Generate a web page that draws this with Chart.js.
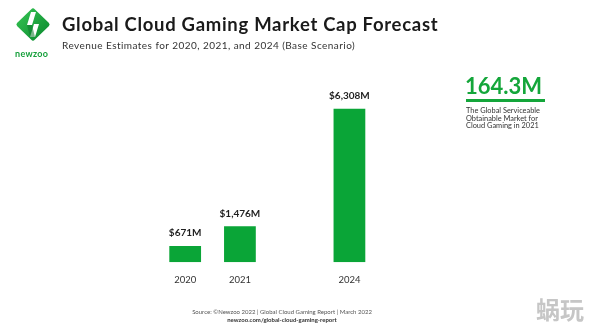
<!DOCTYPE html>
<html>
<head>
<meta charset="utf-8">
<script src="https://cdn.jsdelivr.net/npm/chart.js@4.4.1/dist/chart.umd.min.js"></script>
<style>
  html, body { margin: 0; padding: 0; background: #fff; }
  #wrap { position: relative; width: 594px; height: 332px; overflow: hidden; background: #fff; font-family: "Lato", "Open Sans", sans-serif; }
  #chart { position: absolute; left: 0; top: 0; }
  .abs { position: absolute; white-space: nowrap; }
  #title { left: 62px; top: 15px; font-size: 18.5px; font-weight: 700; color: #1a1a1a; line-height: 1; letter-spacing: 0.7px; }
  #subtitle { left: 62px; top: 40px; font-size: 10px; color: #333; line-height: 1; letter-spacing: 0.45px; }
  #logo { left: 0; top: 0; width: 66px; height: 50px; }
  #brand { left: 15px; top: 49px; font-size: 9px; font-weight: 700; color: #17a03c; letter-spacing: 0.3px; line-height: 1; }
  #big { left: 465px; top: 75px; font-size: 22px; font-weight: 700; color: #14a63a; line-height: 1; }
  #rule { left: 466px; top: 99px; width: 79px; height: 2.5px; background: #14a63a; }
  #note { left: 466px; top: 107px; font-size: 7.4px; color: #333; line-height: 7.6px; }
  #src { left: 0; width: 564px; top: 309px; text-align: center; font-size: 6px; color: #555; line-height: 1; }
  #url { left: 0; width: 564px; top: 317px; text-align: center; font-size: 6px; font-weight: 700; color: #333; line-height: 1; }
  #mark { left: 536px; top: 297px; font-family: "Noto Sans CJK SC", sans-serif; font-size: 24px; font-weight: 700; color: #c6c6c6; line-height: 1; }
</style>
</head>
<body>
<div id="wrap">
  <canvas id="chart" width="594" height="332"></canvas>
  <svg id="logo" class="abs" viewBox="0 0 66 50">
    <defs>
      <linearGradient id="lg" x1="0" y1="0" x2="1" y2="1">
        <stop offset="0" stop-color="#34c252"/>
        <stop offset="1" stop-color="#0b8a2f"/>
      </linearGradient>
    </defs>
    <polygon points="33,11 47,24.5 33,38 19,24.5" fill="url(#lg)" stroke="url(#lg)" stroke-width="5" stroke-linejoin="round"/>
    <path d="M31 12 L36 12 L32 25 L27 25 Z" fill="#fff"/>
    <path d="M34 24 L39 24 L35 37 L30 37 Z" fill="#fff"/>
    <path d="M32 25 L27 25 L30 37 L35 37 Z" fill="#0d7a2b" opacity="0.55"/>
  </svg>
  <div id="brand" class="abs">newzoo</div>
  <div id="title" class="abs">Global Cloud Gaming Market Cap Forecast</div>
  <div id="subtitle" class="abs">Revenue Estimates for 2020, 2021, and 2024 (Base Scenario)</div>
  <div id="big" class="abs">164.3M</div>
  <div id="rule" class="abs"></div>
  <div id="note" class="abs">The Global Serviceable<br>Obtainable Market for<br>Cloud Gaming in 2021</div>
  <div id="src" class="abs">Source: ©Newzoo 2022 | Global Cloud Gaming Report | March 2022</div>
  <div id="url" class="abs">newzoo.com/global-cloud-gaming-report</div>
  <div id="mark" class="abs">蜗玩</div>
</div>
<script>
// Years on the category axis; the empty slot keeps 2024 set apart from 2021.
const years = ['2020', '2021', '', '2024'];
// Revenue in millions of US dollars.
const revenue = [671, 1476, null, 6308];
const yMax = 7000;

const barGreen = '#0aa537';

const formatRevenue = v => '$' + v.toLocaleString('en-US') + 'M';

// Writes the dollar value above each bar.
const valueLabels = {
  id: 'valueLabels',
  afterDatasetsDraw(chart) {
    const ctx = chart.ctx;
    const meta = chart.getDatasetMeta(0);
    ctx.save();
    ctx.font = '700 10px "Lato", "Open Sans", sans-serif';
    ctx.fillStyle = '#1f1f1f';
    ctx.textAlign = 'center';
    ctx.textBaseline = 'middle';
    meta.data.forEach((bar, i) => {
      const v = chart.data.datasets[0].data[i];
      if (v == null) return;
      ctx.fillText(formatRevenue(v), bar.x, bar.y - 13);
    });
    ctx.restore();
  }
};

new Chart(document.getElementById('chart'), {
  type: 'bar',
  data: {
    labels: years,
    datasets: [{
      data: revenue,
      backgroundColor: barGreen,
      borderWidth: 0,
      barPercentage: 0.58,
      categoryPercentage: 1.0
    }]
  },
  options: {
    responsive: false,
    animation: false,
    devicePixelRatio: 1,
    layout: { padding: { left: 157.8, right: 217.2, top: 91.8, bottom: 0 } },
    plugins: {
      legend: { display: false },
      tooltip: { enabled: false }
    },
    scales: {
      x: {
        grid: { display: false },
        border: { display: false },
        ticks: {
          color: '#333',
          font: { family: '"Lato", "Open Sans", sans-serif', size: 9.5 },
          padding: 4,
          maxRotation: 0
        },
        afterFit(scale) { scale.height = 69.7; }
      },
      y: {
        display: false,
        min: 0,
        max: yMax
      }
    }
  },
  plugins: [valueLabels]
});
</script>
</body>
</html>
